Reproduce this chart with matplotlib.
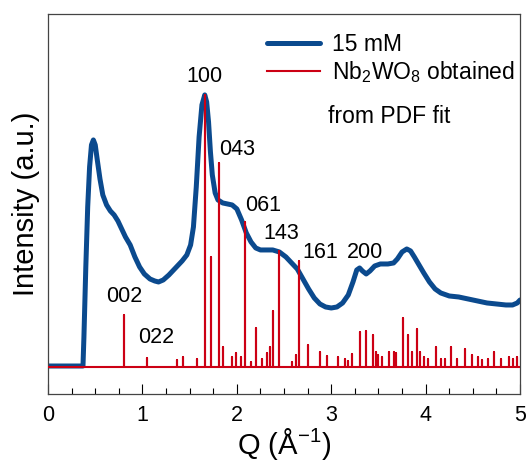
import numpy as np
import matplotlib.pyplot as plt

plt.rcParams['font.family'] = ['Liberation Sans', 'DejaVu Sans']
plt.rcParams['mathtext.fontset'] = 'custom'
plt.rcParams['mathtext.rm'] = 'Liberation Sans'

# ==================== data ====================
# measured pattern (15 mM), heights in arbitrary units above baseline
q_meas = [0.00, 0.37, 0.38, 0.40, 0.42, 0.44, 0.46, 0.48, 0.50, 0.52, 0.55, 0.58,
          0.62, 0.66, 0.70, 0.74, 0.78, 0.82, 0.87, 0.92, 0.97, 1.02, 1.08, 1.13,
          1.17, 1.22, 1.28, 1.35, 1.42, 1.47, 1.51, 1.54, 1.57, 1.60, 1.63, 1.66,
          1.68, 1.70, 1.72, 1.74, 1.77, 1.80, 1.85, 1.90, 1.95, 2.00, 2.05, 2.10,
          2.15, 2.20, 2.25, 2.30, 2.38, 2.45, 2.52, 2.58, 2.64, 2.70, 2.76, 2.82,
          2.88, 2.94, 3.00, 3.06, 3.12, 3.18, 3.23, 3.27, 3.30, 3.33, 3.37, 3.41,
          3.46, 3.52, 3.60, 3.66, 3.70, 3.75, 3.80, 3.84, 3.88, 3.93, 3.98, 4.04,
          4.10, 4.16, 4.25, 4.35, 4.45, 4.55, 4.65, 4.75, 4.85, 4.92, 4.97, 5.00]
i_meas = [1, 1, 30, 100, 160, 200, 222, 227, 222, 208, 188, 172,
          162, 156, 152, 146, 138, 130, 122, 110, 100, 93, 88, 86,
          85, 87, 92, 99, 106, 112, 122, 140, 180, 230, 262, 272,
          265, 245, 215, 192, 174, 167, 164, 163, 162, 158, 147, 134,
          125, 119, 117, 117, 117, 115, 110, 104, 98, 88, 78, 69,
          63, 60, 59, 60, 64, 72, 85, 97, 99, 96, 93, 96,
          101, 103, 103, 104, 108, 115, 118, 116, 110, 102, 94, 85,
          78, 74, 71, 70, 68, 66, 64, 63, 62, 62, 64, 67]

# Nb2WO8 reflections from PDF fit
q_ref = [0.80, 1.05, 1.37, 1.43, 1.58, 1.66, 1.73, 1.81, 1.85, 1.95, 1.99, 2.04,
         2.09, 2.15, 2.20, 2.27, 2.32, 2.35, 2.38, 2.45, 2.58, 2.63, 2.66, 2.75,
         2.88, 2.96, 3.07, 3.15, 3.18, 3.22, 3.30, 3.37, 3.44, 3.47, 3.50, 3.54,
         3.61, 3.66, 3.69, 3.76, 3.81, 3.85, 3.91, 3.94, 3.98, 4.02, 4.11, 4.16,
         4.20, 4.27, 4.33, 4.42, 4.49, 4.55, 4.60, 4.66, 4.72, 4.80, 4.88, 4.92, 4.97]
i_ref = [52, 9, 7, 10, 8, 272, 110, 204, 20, 10, 14, 10,
         145, 5, 39, 8, 14, 20, 56, 116, 5, 12, 106, 22,
         15, 11, 10, 8, 6, 13, 35, 36, 32, 15, 12, 10,
         15, 15, 14, 49, 32, 15, 38, 15, 10, 8, 20, 8,
         8, 20, 8, 18, 12, 10, 7, 8, 15, 8, 10, 8, 10]

hkl_labels = ['002', '022', '100', '043', '061', '143', '161', '200']
hkl_q = [0.81, 1.15, 1.66, 2.00, 2.28, 2.47, 2.88, 3.36]
hkl_y = [70, 29, 290, 217, 161, 133, 114, 114]


# ==================== plot ====================
def stick_profile(q, h, q_min=0.0, q_max=5.0):
    q = np.asarray(q)
    h = np.asarray(h)
    xs = np.column_stack([q, q, q]).ravel()
    ys = np.column_stack([np.zeros_like(h), h, np.zeros_like(h)]).ravel()
    return np.r_[q_min, xs, q_max], np.r_[0, ys, 0]


fig = plt.figure(figsize=(5.28, 4.63), dpi=100)
ax = fig.add_axes([0.091, 0.149, 0.894, 0.821])

ax.plot(q_meas, i_meas, color='#0b4a8e', lw=3.6, label='15 mM', zorder=2,
        solid_capstyle='round', solid_joinstyle='round')
xr, yr = stick_profile(q_ref, i_ref)
ax.plot(xr, yr, color='#cc0014', lw=1.5, label='Nb$_2$WO$_8$ obtained', zorder=3)

for lab, x, y in zip(hkl_labels, hkl_q, hkl_y):
    ax.text(x, y, lab, fontsize=15.5, ha='center', va='center')

ax.set_xlim(0, 5)
ax.set_ylim(-27, 353)
ax.set_xticks(range(6))
ax.set_xticks(np.arange(0, 5.01, 0.25), minor=True)
ax.set_yticks([])
ax.tick_params(axis='x', which='major', direction='in', length=7, width=0.8,
               labelsize=15.5, pad=8)
ax.tick_params(axis='x', which='minor', direction='in', length=4, width=0.8)
for s in ax.spines.values():
    s.set_color('#444444')
    s.set_linewidth(0.9)

ax.set_xlabel('Q (Å$^{-1}$)', fontsize=21, labelpad=0)
ax.set_ylabel('Intensity (a.u.)', fontsize=21, labelpad=6)

leg = ax.legend(loc='upper left', bbox_to_anchor=(0.42, 1.005), frameon=False,
                fontsize=16.5, handlelength=2.3, handletextpad=0.55,
                labelspacing=0.15)
ax.text(0.593, 0.73, 'from PDF fit', transform=ax.transAxes, fontsize=16.5,
        ha='left', va='center')

plt.savefig('out.png', dpi=100)
